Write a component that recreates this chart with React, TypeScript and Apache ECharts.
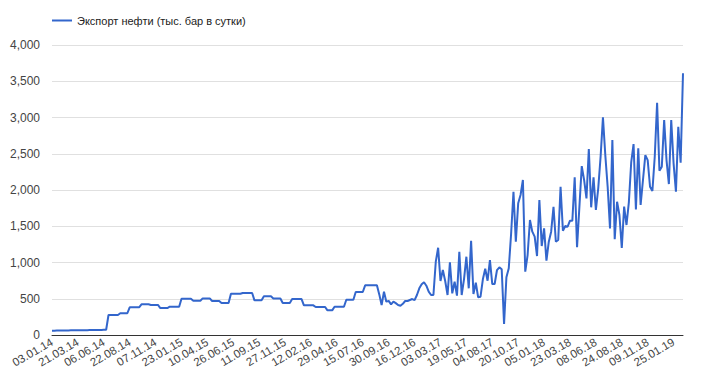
import React, { useEffect, useRef } from "react";
import * as echarts from "echarts";

const SERIES_NAME = "Экспорт нефти (тыс. бар в сутки)";
const START_DATE = "2014-01-03";
const WEEK_COUNT = 269;

// Monthly-level segment (weekly resolution), 2014 – late 2016
const earlyValues: number[] = [
  60, 60, 61, 61, 62, 62, 63, 63, 64, 64, 65, 65, 66, 66, 67, 67, 68, 68, 69, 69, 70, 70, 71, 72,
  276, 276, 276, 276, 276,
  300, 300, 300, 300,
  382, 382, 382, 382, 382,
  423, 423, 423, 423,
  414, 414, 414, 414,
  372, 372, 372, 372,
  390, 390, 390, 390, 390,
  500, 500, 500, 500, 500,
  473, 473, 473, 473,
  505, 505, 505, 505,
  469, 469, 469, 469,
  441, 441, 441, 441,
  570, 570, 570, 570, 570,
  580, 580, 580, 580, 580,
  478, 478, 478, 478,
  533, 533, 533, 533,
  503, 503, 503, 503,
  441, 441, 441, 441,
  496, 496, 496, 496, 496,
  409, 409, 409, 409, 409,
  386, 386, 386, 386, 386,
  340, 340, 340,
  390, 390, 390, 390, 390,
  487, 487, 487, 487,
  593, 593, 593, 593,
  685, 685, 685, 685, 685, 685,
  560,
];

// Weekly segment, late 2016 – early 2019
const weeklyValues: number[] = [
  414, 598, 460, 470, 423, 460, 440, 414, 404, 430, 469, 469, 483, 496, 480, 552, 644, 699, 727, 680, 598, 552, 552,
  1011, 1204, 745, 896, 745, 552, 1003, 575, 735, 542, 1149, 552, 772, 1080, 644, 1300,
  565, 721, 520, 528, 768, 914, 749, 1034, 703, 703, 896, 933, 906, 152, 796, 920,
  1400, 1976, 1287, 1816, 1931, 2138, 873, 1103, 1586, 1425, 1356, 1089, 1862, 1227, 1471, 1025, 1287, 1425, 1769, 1287, 1310, 2045,
  1438, 1503, 1494, 1576, 1576, 2175, 1210, 1769, 2330, 2138, 1885, 2565, 1761, 2175, 1724, 2023, 2459, 3002, 2482, 2045, 1471,
  2689, 1320, 1838, 1655, 1200, 1770, 1517, 1830, 2380, 2634, 1733, 2575, 1793, 2138, 2482, 2413, 2045, 1986, 2459, 3203, 2266,
  2321, 2965, 2413, 2082, 2965, 2368, 1976, 2872, 2376, 3609,
];

const Y_MIN = 0;
const Y_MAX = 4000;
const Y_STEP = 500;
const LABEL_EVERY = 11;

function buildCategories(): string[] {
  const out: string[] = [];
  const start = new Date(START_DATE + "T12:00:00Z");
  for (let i = 0; i < WEEK_COUNT; i++) {
    const d = new Date(start.getTime() + i * 7 * 86400000);
    const dd = String(d.getUTCDate()).padStart(2, "0");
    const mm = String(d.getUTCMonth() + 1).padStart(2, "0");
    const yy = String(d.getUTCFullYear() % 100).padStart(2, "0");
    out.push(`${dd}.${mm}.${yy}`);
  }
  return out;
}

export default function App() {
  const ref = useRef<HTMLDivElement>(null);
  useEffect(() => {
    if (!ref.current) return;
    const chart = echarts.init(ref.current, null, { renderer: "svg" });
    const categories = buildCategories();
    const values = [...earlyValues, ...weeklyValues];
    chart.setOption({
      animation: false,
      textStyle: { fontFamily: "Arial, 'Liberation Sans', sans-serif" },
      legend: {
        show: true,
        left: 47,
        top: 10,
        icon: "rect",
        itemWidth: 20,
        itemHeight: 2,
        itemGap: 10,
        textStyle: { fontSize: 11, color: "#222" },
        data: [SERIES_NAME],
      },
      grid: { left: 52, right: 25, top: 45, bottom: 51, containLabel: false },
      xAxis: {
        type: "category",
        data: categories,
        boundaryGap: false,
        axisLine: { show: true, lineStyle: { color: "#333", width: 1 } },
        axisTick: { show: false },
        splitLine: { show: false },
        axisLabel: {
          interval: LABEL_EVERY - 1,
          rotate: 30,
          margin: 6,
          fontSize: 11.5,
          color: "#444",
        },
      },
      yAxis: {
        type: "value",
        min: Y_MIN,
        max: Y_MAX,
        interval: Y_STEP,
        axisLine: { show: false },
        axisTick: { show: false },
        splitLine: { show: true, lineStyle: { color: "#e0e0e0", width: 1 } },
        axisLabel: {
          margin: 12,
          fontSize: 12,
          color: "#444",
          formatter: (v: number) => v.toLocaleString("en-US"),
        },
      },
      series: [
        {
          name: SERIES_NAME,
          type: "line",
          data: values,
          showSymbol: false,
          symbol: "none",
          lineStyle: { color: "#3366cc", width: 2 },
          itemStyle: { color: "#3366cc" },
        },
      ],
    });
    return () => chart.dispose();
  }, []);
  return (
    <div
      ref={ref}
      style={{ position: "fixed", left: 0, top: 0, width: 708, height: 386, background: "#fff" }}
    />
  );
}
